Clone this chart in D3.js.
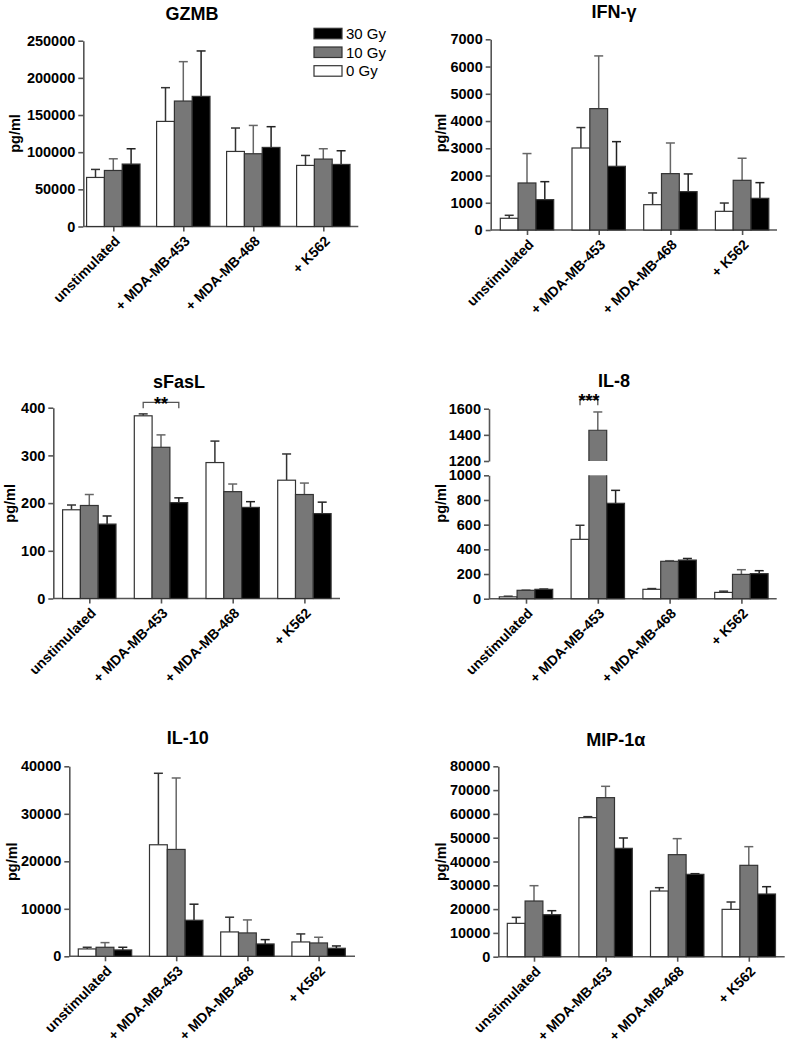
<!DOCTYPE html>
<html>
<head>
<meta charset="utf-8">
<script src="https://cdn.jsdelivr.net/npm/d3@7/dist/d3.min.js"></script>
<style>
  html, body { margin: 0; padding: 0; background: #ffffff; }
  svg { display: block; }
  text { font-family: "Liberation Sans", Arial, Helvetica, sans-serif; }
</style>
</head>
<body>
<script>
// ---------------- DATA ----------------
const categories = ["unstimulated", "+ MDA-MB-453", "+ MDA-MB-468", "+ K562"];
const doses = ["0 Gy", "10 Gy", "30 Gy"];
const legendOrder = ["30 Gy", "10 Gy", "0 Gy"];

// rows: 0 Gy, 10 Gy, 30 Gy ; columns: categories
const gzmbMean = [[66000, 141400, 101000, 82200], [75400, 168800, 97900, 90700], [84000, 175100, 106400, 83500]];
const gzmbSD   = [[10800, 45400, 31500, 13400], [15700, 53000, 38100, 13900], [20600, 61100, 27900, 18400]];
const gzmbTicks = [0, 50000, 100000, 150000, 200000, 250000];

const ifnMean = [[430, 3010, 930, 685], [1726, 4455, 2069, 1824], [1114, 2338, 1408, 1163]];
const ifnSD   = [[110, 750, 430, 305], [1080, 1935, 1125, 810], [660, 905, 650, 575]];
const ifnTicks = [0, 1000, 2000, 3000, 4000, 5000, 6000, 7000];

const fasMean = [[186, 383, 285, 248], [195, 317, 224, 218], [156, 201, 191, 178]];
const fasSD   = [[10, 4, 45, 55], [23, 26, 16, 24], [17, 10, 12, 24]];
const fasTicks = [0, 100, 200, 300, 400];

const il8Mean = [[15, 481, 76, 51], [68, 1435, 303, 197], [76, 773, 313, 203]];
const il8SD   = [[5, 114, 6, 10], [2, 140, 5, 38], [2, 105, 13, 24]];
const il8TicksLow = [0, 200, 400, 600, 800, 1000];
const il8TicksHigh = [1200, 1400, 1600];

const il10Mean = [[1550, 23480, 5130, 3020], [1900, 22500, 4920, 2810], [1340, 7590, 2600, 1690]];
const il10SD   = [[350, 15050, 3100, 1690], [980, 15040, 2740, 1200], [560, 3380, 910, 490]];
const il10Ticks = [0, 10000, 20000, 30000, 40000];

const mipMean = [[14010, 58420, 27600, 19890], [23400, 66830, 42870, 38390], [17650, 45530, 34600, 26340]];
const mipSD   = [[2520, 420, 1400, 3090], [6440, 4760, 6730, 7840], [1680, 4350, 280, 3080]];
const mipTicks = [0, 10000, 20000, 30000, 40000, 50000, 60000, 70000, 80000];

// ---------------- STYLE / LAYOUT ----------------
const W = 788, H = 1047;
const fills = {"0 Gy": "#ffffff", "10 Gy": "#777777", "30 Gy": "#000000"};
const errColor = {"0 Gy": "#333333", "10 Gy": "#666666", "30 Gy": "#222222"};
const axisColor = "#555555";
const barW = 17.8;

const svg = d3.select("body").append("svg").attr("width", W).attr("height", H)
  .style("background", "#fff");

function drawPanel(cfg) {
  const g = svg.append("g");
  const x = d3.scalePoint().domain(categories).range([cfg.c0, cfg.c0 + 3 * cfg.step]);
  const sub = d3.scaleBand().domain(doses).range([-1.5 * barW, 1.5 * barW]);

  const yLow = d3.scaleLinear().domain(cfg.lowDomain).range([cfg.base, cfg.lowTop]);
  const yHigh = cfg.highDomain ? d3.scaleLinear().domain(cfg.highDomain).range([cfg.highBottom, cfg.highTop]) : null;

  const axL = g.append("g").attr("transform", `translate(${cfg.x0},0)`)
    .call(d3.axisLeft(yLow).tickValues(cfg.ticksLow).tickSize(5).tickSizeOuter(0).tickPadding(3).tickFormat(d3.format("d")));
  const axes = [axL];
  if (yHigh) {
    axes.push(g.append("g").attr("transform", `translate(${cfg.x0},0)`)
      .call(d3.axisLeft(yHigh).tickValues(cfg.ticksHigh).tickSize(5).tickSizeOuter(0).tickPadding(3).tickFormat(d3.format("d"))));
  }
  axes.forEach(a => {
    a.select(".domain").attr("stroke", axisColor).attr("stroke-width", 1.6);
    a.selectAll(".tick line").attr("stroke", axisColor).attr("stroke-width", 1.6);
    a.selectAll(".tick text").attr("fill", "#000").attr("font-size", 14.5).attr("font-weight", "bold")
      .attr("font-family", '"Liberation Sans", Arial, sans-serif');
  });

  g.append("line").attr("x1", cfg.x0).attr("x2", cfg.x1).attr("y1", cfg.base).attr("y2", cfg.base)
    .attr("stroke", axisColor).attr("stroke-width", 1.6);
  const axB = g.append("g").attr("transform", `translate(0,${cfg.base})`)
    .call(d3.axisBottom(x).tickSize(5).tickSizeOuter(0).tickFormat(""));
  axB.select(".domain").remove();
  axB.selectAll(".tick line").attr("stroke", axisColor).attr("stroke-width", 1.6);

  doses.forEach((dose, di) => {
    categories.forEach((cat, ci) => {
      const v = cfg.mean[di][ci], sd = cfg.sd[di][ci];
      const bx = x(cat) + sub(dose);
      const bw = sub.bandwidth();
      const cx = bx + bw / 2;
      const yOf = val => (yHigh && val >= cfg.highDomain[0]) ? yHigh(val) : yLow(Math.min(val, cfg.lowDomain[1]));
      const yTop = yOf(v), yErr = yOf(v + sd);
      g.append("line").attr("x1", cx).attr("x2", cx).attr("y1", yTop).attr("y2", yErr)
        .attr("stroke", errColor[dose]).attr("stroke-width", 1.5);
      g.append("line").attr("x1", cx - 4.5).attr("x2", cx + 4.5).attr("y1", yErr).attr("y2", yErr)
        .attr("stroke", errColor[dose]).attr("stroke-width", 1.5);
      const broken = yHigh && v > cfg.lowDomain[1];
      if (!broken) {
        g.append("rect").attr("x", bx).attr("width", bw)
          .attr("y", yLow(v)).attr("height", cfg.base - yLow(v))
          .attr("fill", fills[dose]).attr("stroke", "#333").attr("stroke-width", 1.2);
      } else {
        const yl = yLow(cfg.lowDomain[1]);
        g.append("rect").attr("x", bx).attr("width", bw).attr("y", yl).attr("height", cfg.base - yl)
          .attr("fill", fills[dose]);
        g.append("path").attr("d", `M${bx},${yl}V${cfg.base}H${bx + bw}V${yl}`)
          .attr("fill", "none").attr("stroke", "#333").attr("stroke-width", 1.2);
        const yh0 = yHigh(cfg.highDomain[0]), yv = yHigh(v);
        g.append("rect").attr("x", bx).attr("width", bw).attr("y", yv).attr("height", yh0 - yv)
          .attr("fill", fills[dose]);
        g.append("path").attr("d", `M${bx},${yh0}V${yv}H${bx + bw}V${yh0}`)
          .attr("fill", "none").attr("stroke", "#333").attr("stroke-width", 1.2);
      }
    });
  });

  categories.forEach(cat => {
    g.append("text")
      .attr("transform", `translate(${x(cat) + 4},${cfg.base + 12}) rotate(-45)`)
      .attr("text-anchor", "end").attr("dy", "0.35em")
      .attr("font-size", 14).attr("font-weight", "bold").attr("fill", "#000")
      .text(cat);
  });

  g.append("text").attr("x", cfg.titleX).attr("y", cfg.titleY + 6.5)
    .attr("text-anchor", "middle").attr("font-size", 18).attr("font-weight", "bold")
    .text(cfg.title);

  g.append("text").attr("transform", `translate(${cfg.ylabX},${cfg.ylabY}) rotate(-90)`)
    .attr("text-anchor", "middle").attr("dy", "0.35em")
    .attr("font-size", 14.5).attr("font-weight", "bold").text("pg/ml");

  if (cfg.sig) {
    const s = cfg.sig;
    const xa = x(categories[s.cat]) + sub(doses[s.from]) + sub.bandwidth() / 2;
    const xb = x(categories[s.cat]) + sub(doses[s.to]) + sub.bandwidth() / 2;
    g.append("path")
      .attr("d", `M${xa},${s.y + 6}V${s.y}H${xb}V${s.y + 6}`)
      .attr("fill", "none").attr("stroke", "#555").attr("stroke-width", 1.3);
    g.append("text").attr("x", (xa + xb) / 2).attr("y", s.y + 8)
      .attr("text-anchor", "middle").attr("font-size", 18).attr("font-weight", "bold")
      .text(s.label);
  }
}

drawPanel({title: "GZMB", mean: gzmbMean, sd: gzmbSD, x0: 83.3, x1: 358.3, c0: 113.3, step: 70,
  base: 226.5, lowTop: 40.7, lowDomain: [0, 250000], ticksLow: gzmbTicks,
  titleX: 192, titleY: 13.5, ylabX: 15, ylabY: 133.5});

drawPanel({title: "IFN-\u03b3", mean: ifnMean, sd: ifnSD, x0: 490.7, x1: 777, c0: 527, step: 71.7,
  base: 230, lowTop: 39.3, lowDomain: [0, 7000], ticksLow: ifnTicks,
  titleX: 614, titleY: 11, ylabX: 440.7, ylabY: 133});

drawPanel({title: "sFasL", mean: fasMean, sd: fasSD, x0: 53.3, x1: 340, c0: 89.3, step: 71.7,
  base: 598.5, lowTop: 407.7, lowDomain: [0, 400], ticksLow: fasTicks,
  titleX: 179, titleY: 381.7, ylabX: 10, ylabY: 503.3,
  sig: {cat: 1, from: 0, to: 2, y: 402.3, label: "**"}});

drawPanel({title: "IL-8", mean: il8Mean, sd: il8SD, x0: 489, x1: 776.7, c0: 526, step: 71.8,
  base: 598.7, lowTop: 475.3, lowDomain: [0, 1000], ticksLow: il8TicksLow,
  highDomain: [1200, 1600], highBottom: 461, highTop: 408.7, ticksHigh: il8TicksHigh,
  titleX: 614, titleY: 380, ylabX: 440.7, ylabY: 503.3,
  sig: {cat: 1, from: 0, to: 1, y: 399.3, label: "***"}});

drawPanel({title: "IL-10", mean: il10Mean, sd: il10SD, x0: 69.3, x1: 355, c0: 105, step: 71.2,
  base: 956.3, lowTop: 766.3, lowDomain: [0, 40000], ticksLow: il10Ticks,
  titleX: 187.7, titleY: 737.7, ylabX: 11.7, ylabY: 861.7});

drawPanel({title: "MIP-1\u03b1", mean: mipMean, sd: mipSD, x0: 498.3, x1: 784.7, c0: 534, step: 71.6,
  base: 956.7, lowTop: 766.3, lowDomain: [0, 80000], ticksLow: mipTicks,
  titleX: 615.7, titleY: 739.3, ylabX: 440.7, ylabY: 861.7});

const leg = svg.append("g");
legendOrder.forEach((dose, i) => {
  const yy = 28.3 + i * 18.7;
  leg.append("rect").attr("x", 314).attr("y", yy).attr("width", 28).attr("height", 10.5)
    .attr("fill", fills[dose]).attr("stroke", "#333").attr("stroke-width", 1.2);
  leg.append("text").attr("x", 346).attr("y", yy + 5.25).attr("dy", "0.35em")
    .attr("font-size", 15).attr("fill", "#000").text(dose);
});
</script>
</body>
</html>
